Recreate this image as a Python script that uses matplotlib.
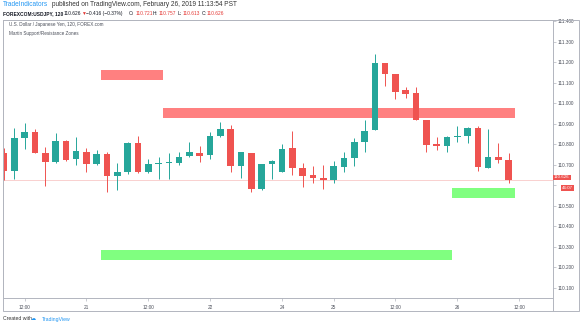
import matplotlib
matplotlib.use("Agg")
import matplotlib.pyplot as plt
from matplotlib.patches import Rectangle
from matplotlib.lines import Line2D

plt.rcParams['font.family'] = ['Liberation Sans', 'DejaVu Sans']

# USDJPY 120 min candles
opens = [110.759, 110.671, 110.832, 110.861, 110.759, 110.715, 110.817, 110.729, 110.763, 110.705,
         110.754, 110.646, 110.666, 110.807, 110.666, 110.705, 110.710, 110.710, 110.744, 110.759,
         110.749, 110.841, 110.876, 110.695, 110.759, 110.583, 110.705, 110.666, 110.783, 110.685,
         110.651, 110.637, 110.627, 110.690, 110.734, 110.812, 110.871, 111.198, 111.144, 111.066,
         111.051, 110.920, 110.802, 110.793, 110.837, 110.841, 110.880, 110.685, 110.739, 110.724]
highs = [110.783, 110.880, 110.905, 110.876, 110.788, 110.856, 110.822, 110.837, 110.783, 110.773,
         110.763, 110.710, 110.812, 110.841, 110.729, 110.739, 110.759, 110.763, 110.812, 110.793,
         110.861, 110.910, 110.895, 110.763, 110.759, 110.705, 110.724, 110.802, 110.866, 110.710,
         110.695, 110.700, 110.720, 110.763, 110.832, 110.920, 111.241, 111.198, 111.144, 111.080,
         111.080, 110.920, 110.837, 110.841, 110.890, 110.885, 110.890, 110.876, 110.807, 110.757]
lows = [110.627, 110.632, 110.778, 110.759, 110.598, 110.710, 110.720, 110.700, 110.666, 110.700,
        110.568, 110.578, 110.656, 110.661, 110.661, 110.632, 110.632, 110.700, 110.739, 110.715,
        110.729, 110.837, 110.666, 110.637, 110.568, 110.578, 110.632, 110.666, 110.651, 110.593,
        110.612, 110.583, 110.612, 110.666, 110.695, 110.763, 110.871, 111.085, 111.022, 111.027,
        110.920, 110.763, 110.773, 110.763, 110.812, 110.807, 110.671, 110.685, 110.710, 110.613]
closes = [110.671, 110.832, 110.861, 110.759, 110.715, 110.817, 110.724, 110.768, 110.705, 110.754,
          110.646, 110.666, 110.807, 110.666, 110.705, 110.710, 110.715, 110.739, 110.763, 110.744,
          110.841, 110.876, 110.695, 110.763, 110.583, 110.705, 110.720, 110.778, 110.685, 110.646,
          110.637, 110.627, 110.695, 110.734, 110.812, 110.866, 111.198, 111.144, 111.056, 111.046,
          110.920, 110.798, 110.793, 110.837, 110.841, 110.880, 110.690, 110.739, 110.724, 110.626]

# support / resistance zones: start bar, end bar, low, high, colour
zone_start = [9.4, 15.4, 9.4, 43.5]
zone_end = [15.4, 49.6, 43.5, 49.6]
zone_low = [111.115, 110.929, 110.237, 110.539]
zone_high = [111.163, 110.978, 110.285, 110.588]
zone_colors = ['#ff8080', '#ff8080', '#80ff80', '#80ff80']

xtick_pos = [2, 8, 14, 20, 27, 32, 38, 44, 50]
xtick_labels = ['12:00', '21', '12:00', '22', '24', '25', '12:00', '26', '12:00']
ytick_vals = [110.1, 110.2, 110.3, 110.4, 110.5, 110.6, 110.7, 110.8, 110.9,
              111.0, 111.1, 111.2, 111.3, 111.4]
last_price = 110.626

UP = '#26a69a'
DOWN = '#ef5350'
TXT = '#4a4e59'
FRAME = '#b2b5be'

W, H = 580, 327
fig = plt.figure(figsize=(W / 100, H / 100), dpi=100)
ax = fig.add_axes([3 / W, (H - 298) / H, 550 / W, 278 / H])

# zones
for x0, x1, lo, hi, c in zip(zone_start, zone_end, zone_low, zone_high, zone_colors):
    ax.fill_between([x0, x1], lo, hi, color=c, linewidth=0, zorder=1)

# last price line
ax.axhline(last_price, color='#f9d0cf', linewidth=0.7, zorder=0.5)

# candles
for i, (o, h, l, c) in enumerate(zip(opens, highs, lows, closes)):
    col = UP if c >= o else DOWN
    ax.vlines(i, l, h, color=col, linewidth=0.7, zorder=2)
    bottom = min(o, c)
    height = max(abs(c - o), 0.005)
    ax.bar(i, height, bottom=bottom, width=0.64, color=col, linewidth=0, zorder=3)

ax.set_xlim(-0.1, 53.3)
ax.set_ylim(110.051, 111.407)

for s in ax.spines.values():
    s.set_color(FRAME)
    s.set_linewidth(0.7)

ax.yaxis.tick_right()
ax.set_yticks(ytick_vals)
# 110.600 sits under the last-price badges, as on the original
ax.set_yticklabels(['' if abs(v - 110.6) < 1e-6 else '%.3f' % v for v in ytick_vals])
ax.tick_params(axis='y', direction='out', length=2, width=0.5, color=FRAME,
               labelsize=3.4, labelcolor=TXT, pad=1.5)
ax.set_xticks(xtick_pos)
ax.set_xticklabels(xtick_labels)
ax.tick_params(axis='x', direction='out', length=2, width=0.5, color=FRAME,
               labelsize=3.4, labelcolor=TXT, pad=3)

# price labels on the axis
ax.text((554 - 3) / 550, 110.639, '110.626', transform=ax.get_yaxis_transform(),
        fontsize=3.2, color='white', va='center', ha='left', zorder=10,
        bbox=dict(boxstyle='square,pad=0.2', fc=DOWN, ec='none'))
ax.text((562 - 3) / 550, 110.588, '46:07', transform=ax.get_yaxis_transform(),
        fontsize=3.2, color='white', va='center', ha='left', zorder=10,
        bbox=dict(boxstyle='square,pad=0.2', fc=DOWN, ec='none'))

# outer frame
fig.add_artist(Rectangle((3 / W, (H - 311) / H), 576 / W, 291 / H, transform=fig.transFigure,
                         fill=False, ec=FRAME, lw=0.7))
fig.add_artist(Line2D([553 / W, 553 / W], [(H - 311) / H, (H - 298) / H],
                      transform=fig.transFigure, color=FRAME, lw=0.7))

# series legend inside chart
fig.text(9 / W, 1 - 24.5 / H, 'U.S. Dollar / Japanese Yen, 120, FOREX.com', fontsize=3.3,
         color=TXT, va='center')
fig.text(9 / W, 1 - 33 / H, 'Martin Support/Resistance Zones', fontsize=3.3,
         color=TXT, va='center')


def put_pieces(y, pieces, size):
    # each piece: text, left edge in px, colour, weight
    for txt, x, col, weight in pieces:
        fig.text(x / W, 1 - y / H, txt, color=col, fontsize=size, fontweight=weight, va='center')


put_pieces(5, [
    ('TradeIndicators', 3, '#2196f3', 'normal'),
    ('published on TradingView.com, February 26, 2019 11:13:54 PST', 52, '#333333', 'normal'),
], 4.7)

INK = '#131722'
RED_TXT = '#e53935'
put_pieces(13.7, [
    ('FOREXCOM:USDJPY, 120', 3, INK, 'bold'),
    ('110.626', 64, INK, 'normal'),
    ('\u25bc', 81, RED_TXT, 'normal'),
    ('\u22120.416 (\u22120.37%)', 86.5, INK, 'normal'),
    ('O:', 128.5, INK, 'normal'), ('110.721', 135.5, RED_TXT, 'normal'),
    ('H:', 153, INK, 'normal'), ('110.757', 159, RED_TXT, 'normal'),
    ('L:', 178, INK, 'normal'), ('110.613', 183, RED_TXT, 'normal'),
    ('C:', 202, INK, 'normal'), ('110.626', 207, RED_TXT, 'normal'),
], 3.5)

put_pieces(319, [
    ('Created with', 3, '#333333', 'normal'),
    ('\u2601', 31, '#2196f3', 'normal'),
    ('TradingView', 42, '#2196f3', 'normal'),
], 3.7)

fig.savefig('out.png', dpi=100, facecolor='white')
